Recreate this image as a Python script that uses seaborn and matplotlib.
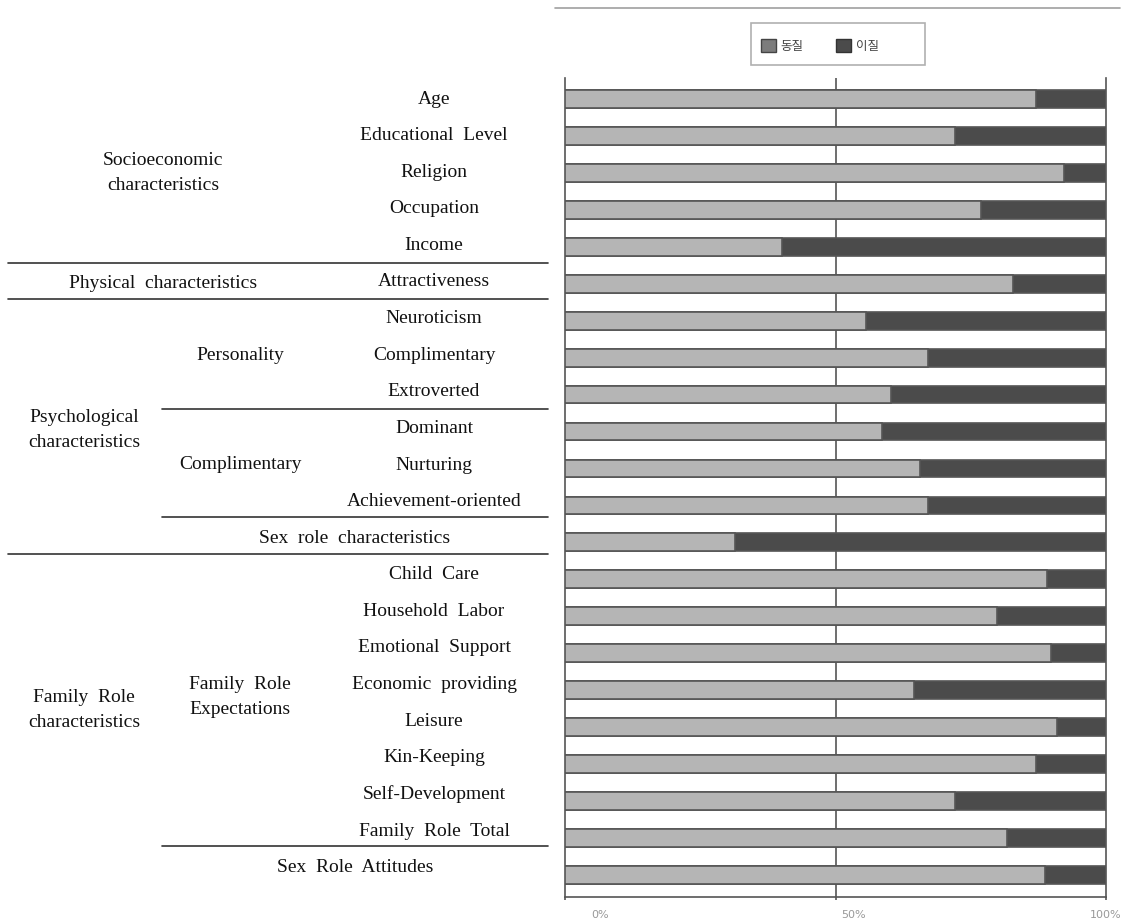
import matplotlib
matplotlib.use('Agg')
import matplotlib.pyplot as plt
import matplotlib.transforms as mtransforms
import seaborn as sns
import pandas as pd
from matplotlib.lines import Line2D
from matplotlib.patches import Patch, Rectangle

# ---------------- data ----------------
items = ['Age', 'Educational  Level', 'Religion', 'Occupation', 'Income',
         'Attractiveness', 'Neuroticism', 'Complimentary', 'Extroverted',
         'Dominant', 'Nurturing', 'Achievement-oriented', 'Sex role characteristics',
         'Child  Care', 'Household  Labor', 'Emotional  Support', 'Economic  providing',
         'Leisure', 'Kin-Keeping', 'Self-Development', 'Family  Role  Total',
         'Sex Role Attitudes']
homogeneous = [87.0, 72.0, 92.2, 76.9, 40.1, 82.8, 55.6, 67.1, 60.3, 58.6, 65.6,
               67.1, 31.4, 89.1, 79.9, 89.8, 64.5, 90.9, 87.1, 72.1, 81.7, 88.7]
total = [100] * len(items)
legend_labels = ['동질', '이질']
x_ticks = [0, 50, 100]
x_tick_labels = ['0%', '50%', '100%']

# ---------------- style ----------------
sns.set_theme(style='white')
plt.rcParams['font.family'] = ['Liberation Serif', 'Noto Sans CJK KR', 'DejaVu Sans']

LIGHT = '#b5b5b5'
DARK = '#4b4b4b'
EDGE = '#555555'

W, H = 1133, 922
fig = plt.figure(figsize=(W / 100, H / 100), dpi=100)
fig.patch.set_facecolor('white')


def fx(x):
    return x / W


def fy(y):
    return 1 - y / H


ax = fig.add_axes([fx(565), fy(897), (1106 - 565) / W, (897 - 78) / H])

df = pd.DataFrame({'item': items, 'homo': homogeneous, 'total': total})
ax.axvline(50, color=EDGE, lw=1.2, zorder=0)
sns.barplot(data=df, y='item', x='total', orient='h', color=DARK, saturation=1,
            width=0.48, edgecolor=EDGE, linewidth=1.2, ax=ax, zorder=2)
sns.barplot(data=df, y='item', x='homo', orient='h', color=LIGHT, saturation=1,
            width=0.48, edgecolor=EDGE, linewidth=1.2, ax=ax, zorder=3)

ax.set_xlim(0, 100)
ax.set_ylim(21.6, -0.57)
ax.set_yticks([])
ax.set_ylabel('')
ax.set_xlabel('')
ax.set_xticks(x_ticks)
ax.set_xticklabels([])
ax.tick_params(axis='x', length=2, width=1.2, color=EDGE, bottom=True)
for s in ['left', 'right', 'bottom']:
    ax.spines[s].set_visible(True)
    ax.spines[s].set_color(EDGE)
    ax.spines[s].set_linewidth(1.2)
ax.spines['top'].set_visible(False)

# tick labels (the original labels sit slightly right of their ticks)
base = mtransforms.blended_transform_factory(ax.transData, fig.transFigure)
for xv, lab, dx in zip(x_ticks, x_tick_labels, [35, 18, 0]):
    tr = base + mtransforms.ScaledTranslation(dx / 100, 0, fig.dpi_scale_trans)
    ax.text(xv, fy(915), lab, transform=tr, ha='center', va='center',
            fontsize=8, color='#999999', family='DejaVu Sans', clip_on=False)

# legend
handles = [Patch(facecolor='#7c7c7c', edgecolor='#444'), Patch(facecolor=DARK, edgecolor='#333')]
leg = fig.legend(handles, legend_labels, loc='center', bbox_to_anchor=(fx(820), fy(46)),
                 ncol=2, frameon=False,
                 prop={'family': 'Noto Sans CJK KR', 'size': 9},
                 handlelength=1.2, handleheight=1.2, handletextpad=0.4,
                 columnspacing=2.6, labelcolor='#444')
fig.add_artist(Rectangle((fx(751), fy(65)), (925 - 751) / W, (65 - 23) / H,
                         transform=fig.transFigure, facecolor='none',
                         edgecolor='#b0b0b0', lw=1.2))

# top rule
fig.add_artist(Line2D([fx(555), fx(1120)], [fy(8), fy(8)], color='#a0a0a0', lw=1.2))

# ---------------- left table ----------------
TXT = dict(ha='center', va='center', fontsize=14, color='#111111', family='Liberation Serif')
for i, lab in enumerate(items):
    if lab in ('Sex role characteristics', 'Sex Role Attitudes'):
        continue
    fig.text(fx(434), fy(99 + i * 36.6), lab, **TXT)

fig.text(fx(355), fy(99 + 12 * 36.6), 'Sex  role  characteristics', **TXT)
fig.text(fx(355), fy(99 + 21 * 36.6), 'Sex  Role  Attitudes', **TXT)

groups = [
    ('Socioeconomic\ncharacteristics', 163, 173),
    ('Physical  characteristics', 163, 283),
    ('Personality', 240, 355),
    ('Psychological\ncharacteristics', 84, 430),
    ('Complimentary', 240, 464),
    ('Family  Role\ncharacteristics', 84, 710),
    ('Family  Role\nExpectations', 240, 697),
]
for lab, x, y in groups:
    fig.text(fx(x), fy(y), lab, linespacing=1.65, **TXT)

rules = [(8, 548, 263), (8, 548, 299), (162, 548, 409), (162, 548, 517),
         (8, 548, 554), (162, 548, 846)]
for x0, x1, y in rules:
    fig.add_artist(Line2D([fx(x0), fx(x1)], [fy(y), fy(y)], color='#333333', lw=1.2))

fig.savefig('out.png', dpi=100, facecolor='white')
